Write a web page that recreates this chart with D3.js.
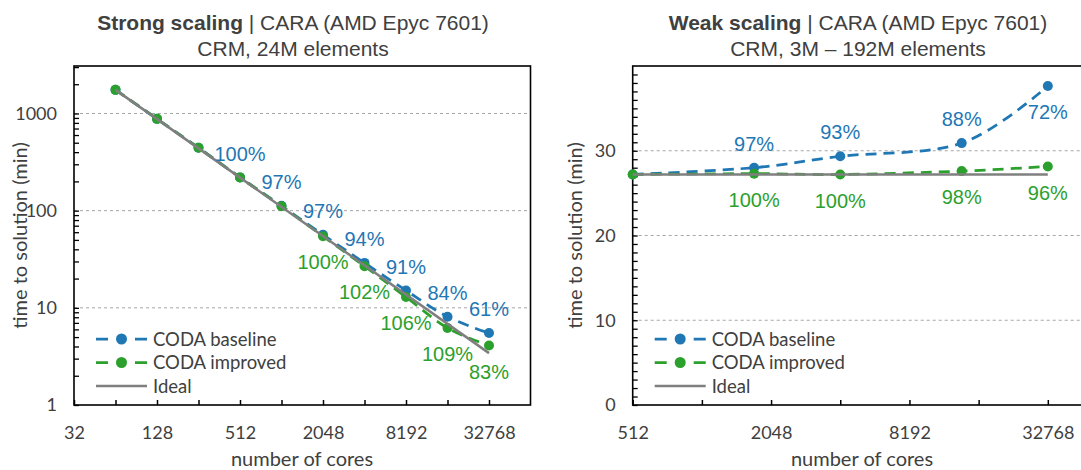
<!DOCTYPE html>
<html><head><meta charset="utf-8">
<script src="https://cdn.jsdelivr.net/npm/d3@7"></script>
<style>
html,body{margin:0;padding:0;background:#fff;}
svg{display:block;}
</style></head>
<body>
<svg id="chart" width="1081" height="470"></svg>
<script>
// ---------------- DATA ----------------
const strongCores = [64, 128, 256, 512, 1024, 2048, 4096, 8192, 16384, 32768];
const strongBaseline = [1750, 880, 443, 220, 112, 56.5, 29, 15.1, 8.1, 5.5];
const strongImproved = [1750, 880, 443, 220, 111, 54.5, 26.8, 12.9, 6.2, 4.1];
const strongBaselineLabels = ["", "", "", "100%", "97%", "97%", "94%", "91%", "84%", "61%"];
const strongImprovedLabels = ["", "", "", "", "", "100%", "102%", "106%", "109%", "83%"];
const strongIdealCores = [64, 32768];
const strongIdealTimes = [1750, 3.42];
const strongXTickLabels = [32, 128, 512, 2048, 8192, 32768];
const strongYTickLabels = [1, 10, 100, 1000];

const weakCores = [512, 1728, 4096, 13824, 32768];
const weakBaseline = [27.2, 28.0, 29.35, 30.9, 37.65];
const weakImproved = [27.2, 27.3, 27.2, 27.6, 28.15];
const weakBaselineLabels = ["", "97%", "93%", "88%", "72%"];
const weakImprovedLabels = ["", "100%", "100%", "98%", "96%"];
const weakIdealCores = [512, 32768];
const weakIdealTimes = [27.2, 27.2];
const weakXTickLabels = [512, 2048, 8192, 32768];
const weakYTickLabels = [0, 10, 20, 30];

const seriesNames = ["CODA baseline", "CODA improved", "Ideal"];

// ---------------- STYLE ----------------
const BLUE = "#1f77b4", GREEN = "#2ca02c", GRAY = "#7f7f7f", TXT = "#404040";
const TICKFONT = "Lato, 'Open Sans', sans-serif";
const TITLEFONT = "'Liberation Sans', Arial, sans-serif";

const svg = d3.select("#chart");
svg.append("rect").attr("width", 1081).attr("height", 470).attr("fill", "#fff");

function drawPanel(cfg) {
  const g = svg.append("g");
  const {x, y} = cfg;
  const [x0, x1] = x.range();
  const [yb, yt] = y.range();

  // gridlines
  g.append("g").selectAll("line").data(cfg.grid).join("line")
    .attr("x1", x0).attr("x2", x1)
    .attr("y1", d => y(d)).attr("y2", d => y(d))
    .attr("stroke", "#a6a6a6").attr("stroke-width", 1).attr("stroke-dasharray", "3,3");

  // axes (inward ticks)
  const xa = g.append("g").attr("transform", `translate(0,${yb})`)
    .call(d3.axisBottom(x).tickValues(cfg.xTicks).tickSizeInner(-5).tickSizeOuter(0).tickPadding(21)
      .tickFormat(d => cfg.xLabels.includes(d) ? String(d) : ""));
  xa.select(".domain").remove();
  xa.selectAll("line").attr("stroke", "#000").attr("stroke-width", 1.5);
  xa.selectAll("text").attr("font-family", TICKFONT).attr("font-size", 18).attr("fill", TXT);

  const ya = g.append("g").attr("transform", `translate(${x0},0)`)
    .call(d3.axisLeft(y).tickValues(cfg.yTicks).tickSizeInner(-5).tickSizeOuter(0).tickPadding(17)
      .tickFormat(d => cfg.yLabels.includes(d) ? String(d) : ""));
  ya.select(".domain").remove();
  ya.selectAll("line").attr("stroke", "#000").attr("stroke-width", 1.3);
  ya.selectAll("text").attr("font-family", TICKFONT).attr("font-size", 18).attr("fill", TXT);

  // frame
  g.append("rect").attr("x", x0).attr("y", yt).attr("width", x1 - x0).attr("height", yb - yt)
    .attr("fill", "none").attr("stroke", "#000").attr("stroke-width", 1.6);

  const line = d3.line().x(d => x(d[0])).y(d => y(d[1])).curve(d3.curveCatmullRom.alpha(0));
  const ser = [
    {c: BLUE, v: cfg.base, lab: cfg.baseLabels, off: -24},
    {c: GREEN, v: cfg.impr, lab: cfg.imprLabels, off: 26}
  ];
  ser.forEach(s => {
    const pts = cfg.cores.map((c, i) => [c, s.v[i]]);
    g.append("path").attr("d", line(pts)).attr("fill", "none")
      .attr("stroke", s.c).attr("stroke-width", 2.75).attr("stroke-dasharray", "11,7");
    g.append("g").selectAll("circle").data(pts).join("circle")
      .attr("cx", d => x(d[0])).attr("cy", d => y(d[1])).attr("r", 5).attr("fill", s.c);
  });
  // ideal
  const ip = cfg.idealCores.map((c, i) => [c, cfg.idealTimes[i]]);
  g.append("path").attr("d", d3.line().x(d => x(d[0])).y(d => y(d[1]))(ip))
    .attr("fill", "none").attr("stroke", GRAY).attr("stroke-width", 2.5);

  // labels
  ser.forEach((s, si) => {
    const data = cfg.cores.map((c, i) => ({c, v: s.v[i], t: s.lab[i], i}))
      .filter(d => d.t !== "");
    g.append("g").selectAll("text").data(data).join("text")
      .attr("x", d => x(d.c))
      .attr("y", d => y(d.v) + ((cfg.flipBelow && si === 0 && cfg.flipBelow.includes(d.i)) ? 26 : s.off))
      .attr("dy", "0.36em").attr("text-anchor", "middle")
      .attr("font-family", TITLEFONT).attr("font-size", 20).attr("fill", s.c)
      .text(d => d.t);
  });

  // legend
  const lx = x0 + 22, rows = [339, 362.5, 386];
  const lg = g.append("g");
  seriesNames.forEach((n, i) => {
    const c = [BLUE, GREEN, GRAY][i];
    const r = lg.append("g").attr("transform", `translate(${lx},${rows[i]})`);
    if (i < 2) {
      r.append("line").attr("x1", 0).attr("x2", 51).attr("stroke", c).attr("stroke-width", 2.75)
        .attr("stroke-dasharray", "12,27,12");
      r.append("circle").attr("cx", 25.5).attr("r", 5.5).attr("fill", c);
    } else {
      r.append("line").attr("x1", 0).attr("x2", 51).attr("stroke", c).attr("stroke-width", 2.5);
    }
    r.append("text").attr("x", 57).attr("dy", "0.36em").attr("font-family", TICKFONT)
      .attr("font-size", 18.5).attr("fill", TXT).text(n);
  });

  // titles
  const t = g.append("text").attr("x", cfg.titleX).attr("y", 30).attr("text-anchor", "middle")
    .attr("font-family", TITLEFONT).attr("font-size", 21).attr("fill", TXT);
  t.append("tspan").attr("font-weight", "bold").text(cfg.titleBold);
  t.append("tspan").text(" | CARA (AMD Epyc 7601)");
  g.append("text").attr("x", cfg.titleX).attr("y", 56).attr("text-anchor", "middle")
    .attr("font-family", TITLEFONT).attr("font-size", 21).attr("fill", TXT).text(cfg.subtitle);

  // axis titles
  g.append("text").attr("x", cfg.xTitleX).attr("y", 466).attr("text-anchor", "middle")
    .attr("font-family", TICKFONT).attr("font-size", 20).attr("fill", TXT).text("number of cores");
  g.append("text").attr("transform", `translate(${cfg.yTitleX},${(yb + yt) / 2}) rotate(-90)`)
    .attr("text-anchor", "middle").attr("font-family", TICKFONT).attr("font-size", 20)
    .attr("fill", TXT).text("time to solution (min)");
}

// strong scaling panel
const xs = d3.scaleLog().base(2).domain([32, 65536]).range([74, 530.5]);
const ys = d3.scaleLog().domain([1, 3080]).range([405, 66]);
const strongXTicks = xs.ticks().filter(d => d > 32 && d < 65536);
const strongYTicks = ys.ticks().filter(d => d > 1);
drawPanel({
  x: xs, y: ys, grid: [10, 100, 1000],
  xTicks: strongXTicks.concat([32]), xLabels: strongXTickLabels,
  yTicks: strongYTicks.concat([1]), yLabels: strongYTickLabels,
  cores: strongCores, base: strongBaseline, impr: strongImproved,
  baseLabels: strongBaselineLabels, imprLabels: strongImprovedLabels,
  idealCores: strongIdealCores, idealTimes: strongIdealTimes,
  titleBold: "Strong scaling", subtitle: "CRM, 24M elements",
  titleX: 293, xTitleX: 302, yTitleX: 27
});

// weak scaling panel
const xw = d3.scaleLog().base(2).domain([512, 65536]).range([632.7, 1117]);
const yw = d3.scaleLinear().domain([0, 40]).range([405, 66]);
const weakXTicks = xw.ticks().filter(d => d >= 512 && d < 65536);
const weakYTicks = d3.range(0, 40, 1);
drawPanel({
  x: xw, y: yw, grid: [10, 20, 30],
  xTicks: weakXTicks, xLabels: weakXTickLabels,
  yTicks: weakYTicks, yLabels: weakYTickLabels,
  cores: weakCores, base: weakBaseline, impr: weakImproved,
  baseLabels: weakBaselineLabels, imprLabels: weakImprovedLabels, flipBelow: [4],
  idealCores: weakIdealCores, idealTimes: weakIdealTimes,
  titleBold: "Weak scaling", subtitle: "CRM, 3M \u2013 192M elements",
  titleX: 858, xTitleX: 862, yTitleX: 582
});
</script>
</body></html>
